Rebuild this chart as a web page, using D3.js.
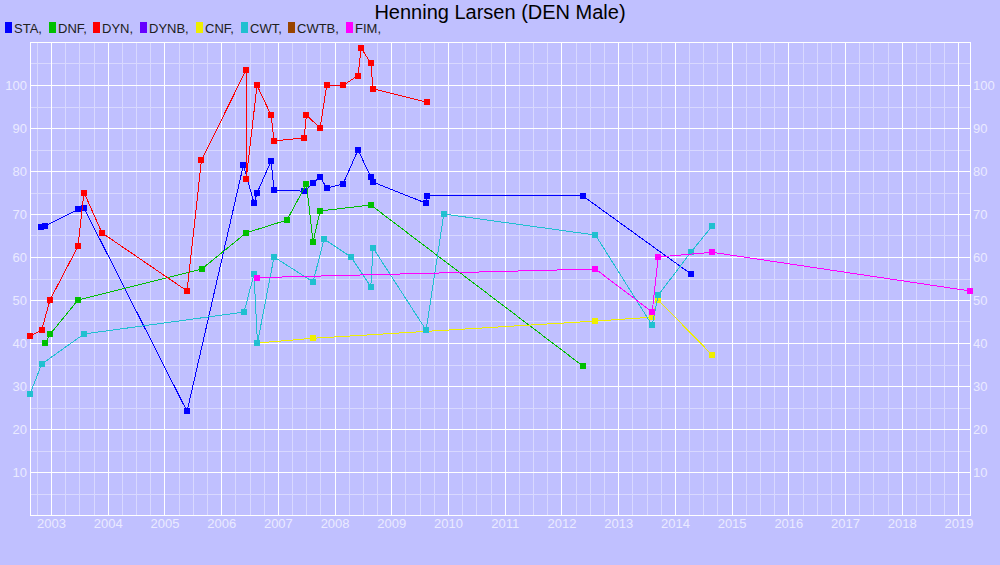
<!DOCTYPE html>
<html><head><meta charset="utf-8">
<script src="https://cdn.jsdelivr.net/npm/d3@7"></script>
<style>
html,body{margin:0;padding:0;background:#c0c0ff;}
svg{display:block;font-family:"Liberation Sans",Arial,sans-serif;}
</style></head>
<body>
<svg id="chart" width="1000" height="565"></svg>
<script>
// ---- data (decimal year, value) ----
const seriesNames = ["STA","DNF","DYN","DYNB","CNF","CWT","CWTB","FIM"];
const seriesColors = ["#0000ff","#00c000","#ff0000","#6600ff","#eeee00","#20c0d0","#994400","#ff00ff"];
const staData = [[2002.831,67.0],[2002.901,67.2],[2003.483,71.1],[2003.582,71.4],[2005.399,24.1],[2006.393,81.4],[2006.580,72.5],[2006.633,74.9],[2006.880,82.3],[2006.933,75.6],[2007.469,75.3],[2007.621,77.2],[2007.744,78.6],[2007.862,76.0],[2008.150,77.0],[2008.414,84.9],[2008.638,78.6],[2008.679,77.4],[2009.614,72.5],[2009.631,74.2],[2012.377,74.2],[2014.287,56.0]];
const dnfData = [[2002.901,40.0],[2002.982,42.0],[2003.476,50.0],[2005.658,57.2],[2006.440,65.6],[2007.162,68.6],[2007.504,77.0],[2007.621,63.5],[2007.744,70.7],[2008.638,72.1],[2012.382,34.6]];
const dynData = [[2002.630,41.6],[2002.836,43.0],[2002.982,50.0],[2003.476,62.5],[2003.582,75.0],[2003.900,65.6],[2005.399,52.1],[2005.653,82.5],[2006.440,103.5],[2006.441,78.1],[2006.633,99.9],[2006.880,93.0],[2006.933,87.0],[2007.462,87.7],[2007.504,93.0],[2007.744,90.0],[2007.862,99.9],[2008.150,99.9],[2008.414,102.2],[2008.467,108.6],[2008.638,105.1],[2008.679,99.1],[2009.631,96.0]];
const dynbData = [];
const cnfData = [[2006.640,40.0],[2007.621,41.1],[2012.600,45.1],[2013.590,46.0],[2013.705,50.0],[2014.658,37.2]];
const cwtData = [[2002.630,28.1],[2002.836,35.1],[2003.582,42.1],[2006.404,47.2],[2006.580,56.0],[2006.640,40.0],[2006.933,60.0],[2007.621,54.2],[2007.815,64.2],[2008.291,60.0],[2008.638,53.1],[2008.679,62.1],[2009.614,43.0],[2009.926,70.0],[2012.600,65.1],[2013.600,44.1],[2013.705,51.1],[2014.287,61.2],[2014.658,67.2]];
const cwtbData = [];
const fimData = [[2006.633,55.2],[2012.600,57.2],[2013.600,47.2],[2013.705,60.0],[2014.658,61.1],[2019.203,52.1]];
const allSeries = [staData,dnfData,dynData,dynbData,cnfData,cwtData,cwtbData,fimData];
const xTickYears = d3.range(2003, 2020);
const yTickValues = d3.range(10, 101, 10);
const titleText = "Henning Larsen (DEN Male)";

// ---- layout ----
const svg = d3.select("#chart");
const L = 30, R = 970, T = 42, B = 515;
const x = d3.scaleLinear().domain([2002.630, 2019.203]).range([L, R]);
const y = d3.scaleLinear().domain([0, 110]).range([B, T]);

svg.append("rect").attr("width",1000).attr("height",565).attr("fill","#c0c0ff");

const grid = svg.append("g").attr("shape-rendering","crispEdges");
// minor grid
const minorX = d3.range(2002.75, 2019.21, 0.25).filter(v => Math.abs(v - Math.round(v)) > 1e-6);
grid.selectAll(".mx").data(minorX).join("line")
  .attr("x1",d=>Math.round(x(d))+0.5).attr("x2",d=>Math.round(x(d))+0.5)
  .attr("y1",T).attr("y2",B).attr("stroke","#d8d8ff").attr("stroke-width",1);
const minorY = d3.range(5, 110, 10);
grid.selectAll(".my").data(minorY).join("line")
  .attr("x1",L).attr("x2",R)
  .attr("y1",d=>Math.round(y(d))+0.5).attr("y2",d=>Math.round(y(d))+0.5)
  .attr("stroke","#d8d8ff").attr("stroke-width",1);
// major grid
grid.selectAll(".Mx").data(xTickYears).join("line")
  .attr("x1",d=>Math.round(x(d))+0.5).attr("x2",d=>Math.round(x(d))+0.5)
  .attr("y1",T).attr("y2",B).attr("stroke","#ffffff").attr("stroke-width",1);
grid.selectAll(".My").data(yTickValues).join("line")
  .attr("x1",L).attr("x2",R)
  .attr("y1",d=>Math.round(y(d))+0.5).attr("y2",d=>Math.round(y(d))+0.5)
  .attr("stroke","#ffffff").attr("stroke-width",1);
// frame
grid.append("rect").attr("x",L+0.5).attr("y",T+0.5).attr("width",R-L).attr("height",B-T)
  .attr("fill","none").attr("stroke","#ffffff").attr("stroke-width",1);

// axes labels
const labelColor = "#eaeaff";
const xAxis = d3.axisBottom(x).tickValues(xTickYears).tickFormat(d3.format("d")).tickSize(0).tickPadding(4);
const gx = svg.append("g").attr("transform",`translate(0,${B})`).call(xAxis);
const yAxisL = d3.axisLeft(y).tickValues(yTickValues).tickSize(0).tickPadding(3);
const gyl = svg.append("g").attr("transform",`translate(${L},0)`).call(yAxisL);
const yAxisR = d3.axisRight(y).tickValues(yTickValues).tickSize(0).tickPadding(3);
const gyr = svg.append("g").attr("transform",`translate(${R},0)`).call(yAxisR);
[gx,gyl,gyr].forEach(g=>{
  g.select(".domain").remove();
  g.selectAll("text").attr("fill",labelColor).attr("font-size",13)
   .attr("font-family","'Liberation Sans',Arial,sans-serif");
});

// series
const line = d3.line().x(d=>x(d[0])).y(d=>y(d[1]));
allSeries.forEach((data,i)=>{
  if(!data.length) return;
  const g = svg.append("g");
  g.append("path").datum(data).attr("d",line).attr("fill","none")
    .attr("stroke",seriesColors[i]).attr("stroke-width",1).attr("shape-rendering","crispEdges");
  g.selectAll("rect").data(data).join("rect")
    .attr("x",d=>Math.round(x(d[0]))-3).attr("y",d=>Math.round(y(d[1]))-3)
    .attr("width",6).attr("height",6).attr("fill",seriesColors[i]).attr("shape-rendering","crispEdges");
});

// title
svg.append("text").attr("x",500).attr("y",19).attr("text-anchor","middle")
  .attr("font-size",20).attr("fill","#000").text(titleText);

// legend
const leg = svg.append("g");
let lx = 5;
seriesNames.forEach((n,i)=>{
  leg.append("rect").attr("x",Math.round(lx)).attr("y",22).attr("width",7).attr("height",11)
    .attr("fill",seriesColors[i]).attr("shape-rendering","crispEdges");
  const t = leg.append("text").attr("x",Math.round(lx)+9).attr("y",33).attr("font-size",13)
    .attr("fill","#202020").text(n + ",");
  lx += 9 + t.node().getComputedTextLength() + 6.8;
});
</script>
</body></html>
